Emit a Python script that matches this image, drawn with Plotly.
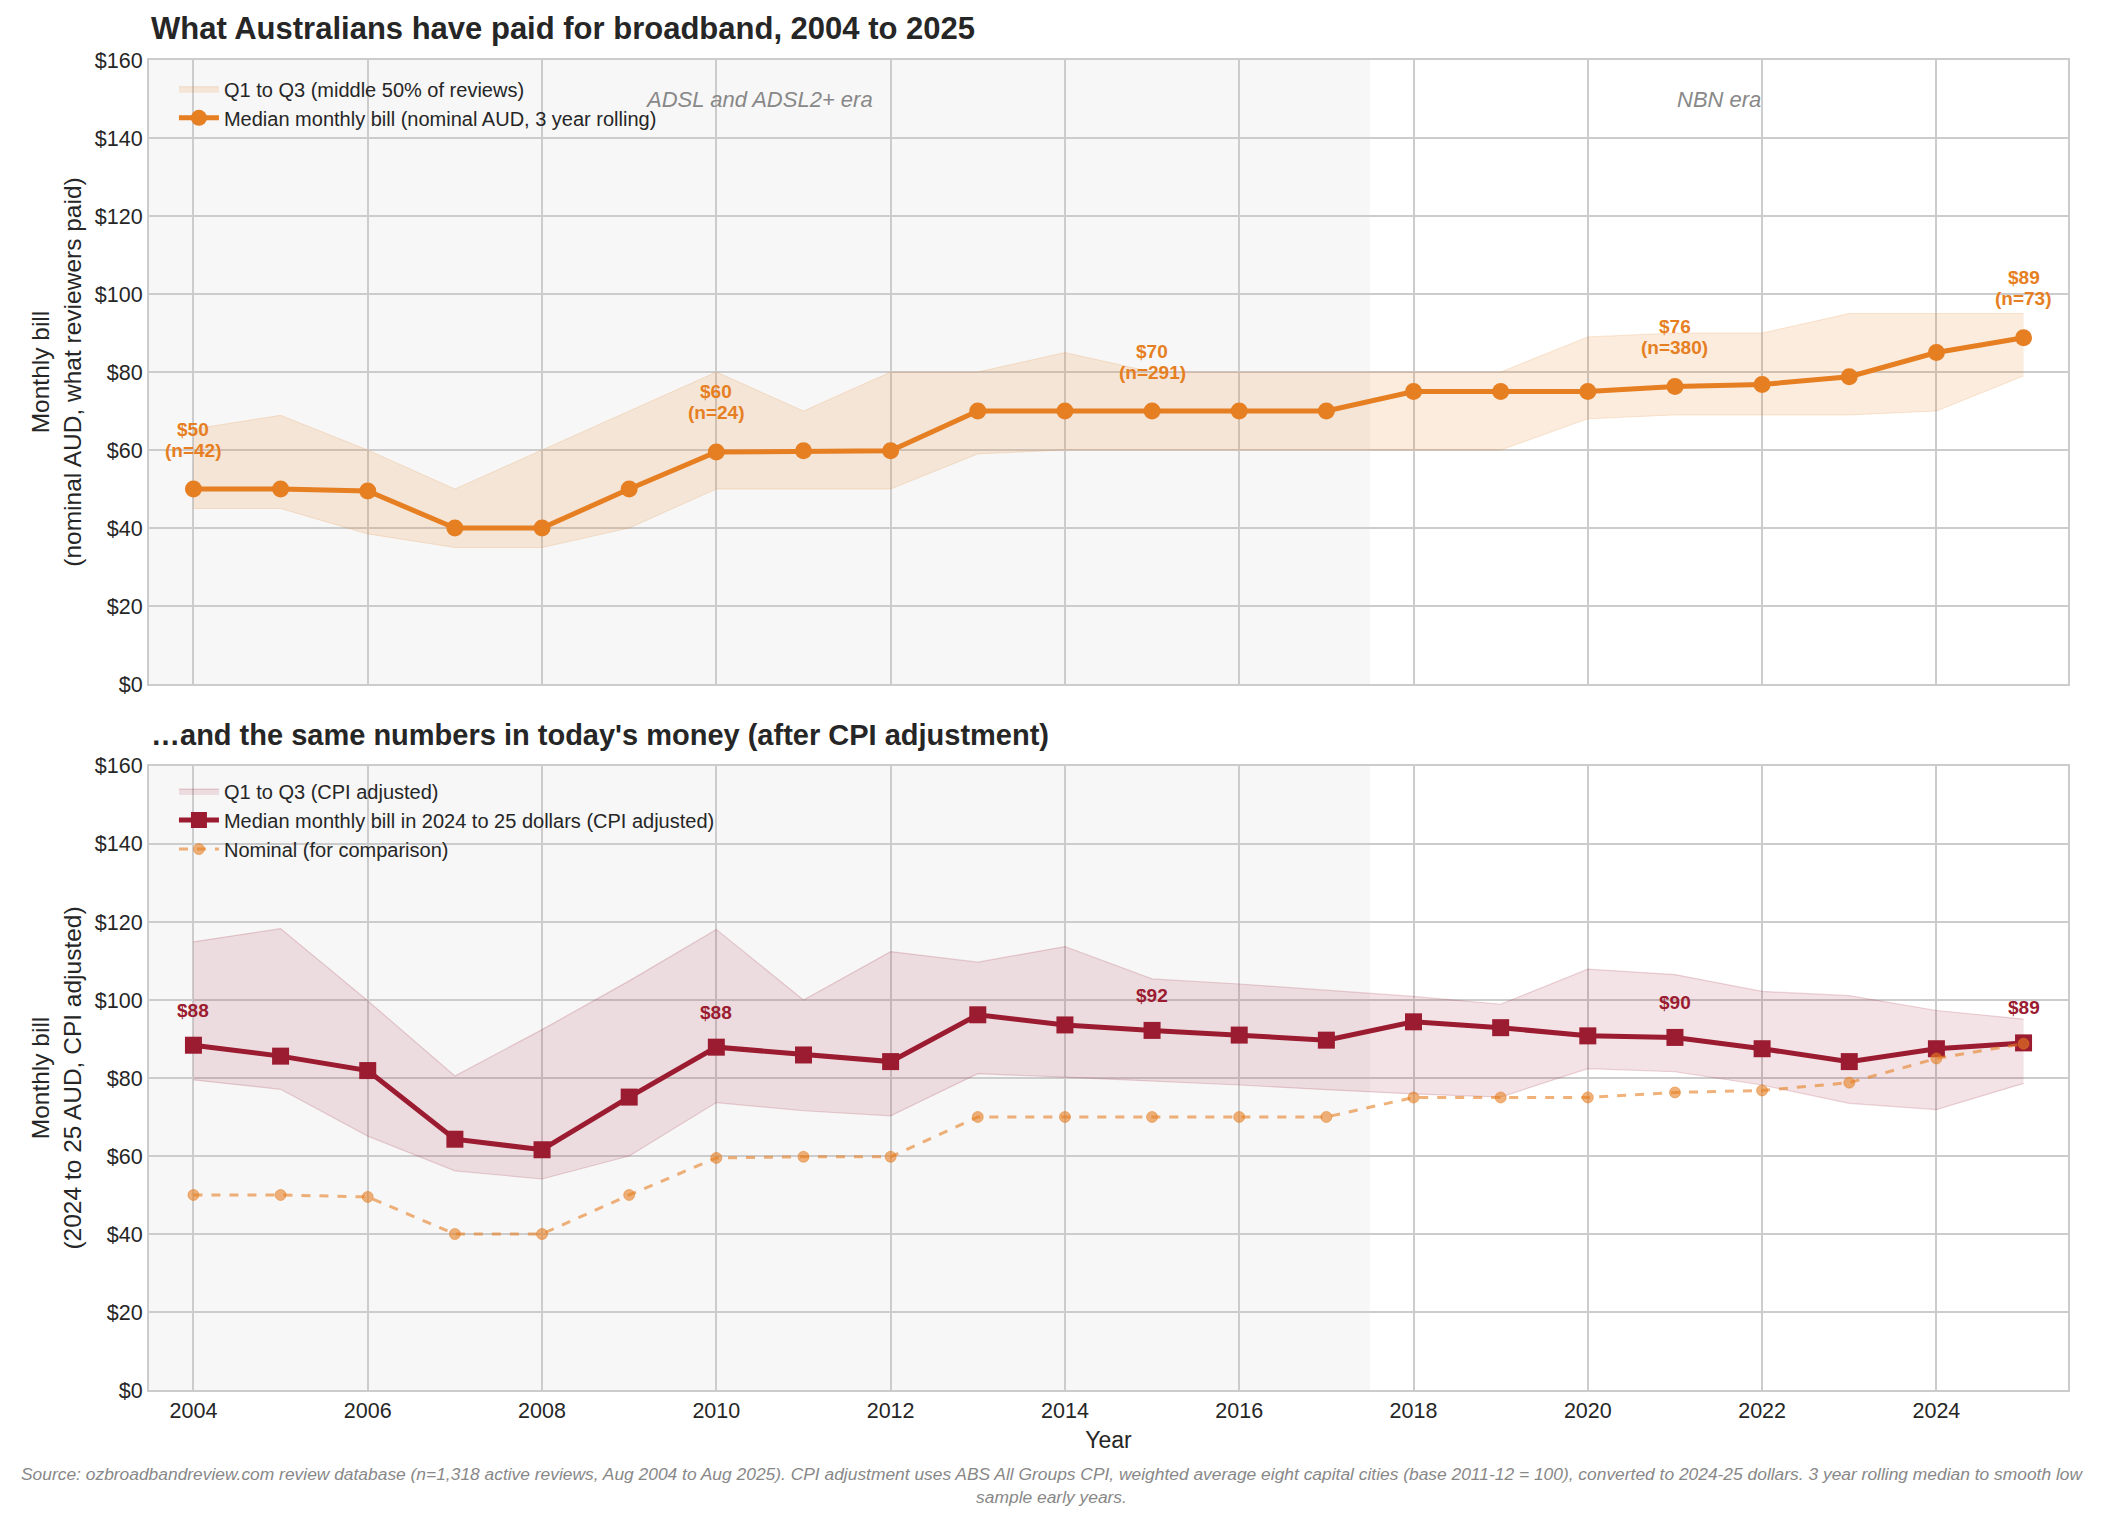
import plotly.graph_objects as go

# ---------------- data ----------------
years = list(range(2004, 2026))
nominal_median = [50, 50, 49.5, 40, 40, 50, 59.5, 59.8, 59.8, 70, 70, 70, 70, 70,
                  75, 75, 75, 76.3, 76.8, 78.8, 85, 88.8]
nominal_q1 = [45, 45, 38.5, 35, 35, 40, 50, 50, 50, 59, 60, 60, 60, 60,
              60, 60, 68, 69, 69, 69, 70, 79]
nominal_q3 = [65.4, 68.9, 60, 50, 60, 70, 80, 70, 80, 80, 85, 80, 80, 80,
              80, 80, 89, 90, 90, 95, 95, 95]

cpi_median = [88.4, 85.6, 81.9, 64.3, 61.6, 75.1, 87.9, 85.9, 84.2, 96.2, 93.6,
              92.2, 91.0, 89.7, 94.4, 92.9, 90.8, 90.4, 87.5, 84.2, 87.5, 89.0]
cpi_q1 = [79.5, 77.1, 65.1, 56.2, 54.1, 60.0, 73.7, 71.6, 70.3, 81.1, 80.2,
          79.2, 78.2, 77.0, 75.9, 75.1, 82.4, 81.6, 78.2, 73.5, 71.9, 78.6]
cpi_q3 = [114.9, 118.3, 99.8, 80.5, 92.4, 104.9, 118.1, 100.0, 112.4, 109.7, 113.7,
          105.4, 104.1, 102.5, 100.9, 98.9, 107.9, 106.5, 102.2, 101.1, 97.3, 95.1]

label_years = [2004, 2010, 2015, 2021, 2025]
label_n = [42, 24, 291, 380, 73]

y_ticks = [0, 20, 40, 60, 80, 100, 120, 140, 160]
x_ticks = [2004, 2006, 2008, 2010, 2012, 2014, 2016, 2018, 2020, 2022, 2024]
era_split = 2017.5

# ---------------- style ----------------
FONT = "Liberation Sans, Arial, sans-serif"
ORANGE = "#e67e22"
CRIMSON = "#9b1b30"
GRID = "#cccccc"
TXT = "#262626"

fig = go.Figure()

# --- top panel ---
fig.add_trace(go.Scatter(x=years, y=nominal_q1, mode="lines",
                         line=dict(color="rgba(230,126,34,0.18)", width=1),
                         showlegend=False, hoverinfo="skip", xaxis="x", yaxis="y"))
fig.add_trace(go.Scatter(x=years, y=nominal_q3, mode="lines", fill="tonexty",
                         fillcolor="rgba(230,126,34,0.15)",
                         line=dict(color="rgba(230,126,34,0.18)", width=1),
                         name="Q1 to Q3 (middle 50% of reviews)", legend="legend",
                         xaxis="x", yaxis="y"))
fig.add_trace(go.Scatter(x=years, y=nominal_median, mode="lines+markers",
                         line=dict(color=ORANGE, width=5),
                         marker=dict(color=ORANGE, size=17, symbol="circle"),
                         name="Median monthly bill (nominal AUD, 3 year rolling)",
                         legend="legend", xaxis="x", yaxis="y"))

# --- bottom panel ---
fig.add_trace(go.Scatter(x=years, y=cpi_q1, mode="lines",
                         line=dict(color="rgba(155,27,48,0.18)", width=1.2),
                         showlegend=False, hoverinfo="skip", xaxis="x2", yaxis="y2"))
fig.add_trace(go.Scatter(x=years, y=cpi_q3, mode="lines", fill="tonexty",
                         fillcolor="rgba(155,27,48,0.12)",
                         line=dict(color="rgba(155,27,48,0.18)", width=1.2),
                         name="Q1 to Q3 (CPI adjusted)", legend="legend2",
                         xaxis="x2", yaxis="y2"))
fig.add_trace(go.Scatter(x=years, y=cpi_median, mode="lines+markers",
                         line=dict(color=CRIMSON, width=5),
                         marker=dict(color=CRIMSON, size=17, symbol="square"),
                         name="Median monthly bill in 2024 to 25 dollars (CPI adjusted)",
                         legend="legend2", xaxis="x2", yaxis="y2"))
fig.add_trace(go.Scatter(x=years, y=nominal_median, mode="lines+markers",
                         line=dict(color="rgba(230,126,34,0.6)", width=3, dash="dash"),
                         marker=dict(color="rgba(230,126,34,0.6)", size=11, symbol="circle",
                                     line=dict(color="rgba(230,126,34,0.5)", width=1)),
                         name="Nominal (for comparison)",
                         legend="legend2", xaxis="x2", yaxis="y2"))

# --- annotations for labels ---
annotations = []
for yr, n in zip(label_years, label_n):
    v = nominal_median[years.index(yr)]
    annotations.append(dict(x=yr, y=v, xref="x", yref="y",
                            text=f"<b>${v:.0f}</b>", showarrow=False,
                            yanchor="middle", yshift=60,
                            font=dict(family=FONT, size=19, color=ORANGE)))
    annotations.append(dict(x=yr, y=v, xref="x", yref="y",
                            text=f"<b>(n={n})</b>", showarrow=False,
                            yanchor="middle", yshift=39,
                            font=dict(family=FONT, size=19, color=ORANGE)))
    c = cpi_median[years.index(yr)]
    annotations.append(dict(x=yr, y=c, xref="x2", yref="y2",
                            text=f"<b>${c:.0f}</b>", showarrow=False,
                            yanchor="middle", yshift=35,
                            font=dict(family=FONT, size=19, color=CRIMSON)))

x_lo, x_hi = 2003.49, 2025.51
annotations.append(dict(x=(x_lo + era_split) / 2, y=150, xref="x", yref="y",
                        text="<i>ADSL and ADSL2+ era</i>", showarrow=False,
                        font=dict(family=FONT, size=22, color="#888888")))
annotations.append(dict(x=(era_split + x_hi) / 2, y=150, xref="x", yref="y",
                        text="<i>NBN era</i>", showarrow=False,
                        font=dict(family=FONT, size=22, color="#888888")))

# titles
annotations.append(dict(x=0, y=1, xref="paper", yref="paper", xanchor="left",
                        yanchor="bottom", yshift=12,
                        text="<b>What Australians have paid for broadband, 2004 to 2025</b>",
                        showarrow=False, font=dict(family=FONT, size=31, color=TXT)))
annotations.append(dict(x=0, y=0.4692, xref="paper", yref="paper", xanchor="left",
                        yanchor="bottom", yshift=13,
                        text="<b>\u2026and the same numbers in today's money (after CPI adjustment)</b>",
                        showarrow=False, font=dict(family=FONT, size=29, color=TXT)))

# footnote
annotations.append(dict(x=(1051.5 - 149) / 1919, y=0, xref="paper", yref="paper",
                        xanchor="center", yanchor="top", yshift=-72,
                        text="<i>Source: ozbroadbandreview.com review database (n=1,318 active reviews, Aug 2004 to Aug 2025). "
                             "CPI adjustment uses ABS All Groups CPI, weighted average eight capital cities (base 2011-12 = 100), "
                             "converted to 2024-25 dollars. 3 year rolling median to smooth low<br>sample early years.</i>",
                        showarrow=False, align="center",
                        font=dict(family=FONT, size=17.4, color="#888888")))

shapes = []
for xr, yr_ in (("x", "y"), ("x2", "y2")):
    shapes.append(dict(type="rect", xref=xr, yref=f"{yr_} domain",
                       x0=x_lo, x1=era_split, y0=0, y1=1,
                       fillcolor="#f7f7f7", line=dict(width=0), layer="below"))

axis_common = dict(showgrid=True, gridcolor=GRID, gridwidth=1.5, showline=True,
                   linecolor=GRID, linewidth=2, mirror=True, zeroline=False,
                   ticks="", tickfont=dict(family=FONT, size=21.5, color=TXT))

fig.update_layout(
    width=2103, height=1521,
    margin=dict(l=149, r=35, t=60, b=131),
    paper_bgcolor="white", plot_bgcolor="white",
    font=dict(family=FONT, color=TXT),
    xaxis=dict(domain=[0, 1], range=[x_lo, x_hi], tickvals=x_ticks,
               showticklabels=False, anchor="y", **axis_common),
    yaxis=dict(domain=[0.5308, 1], range=[0, 160], tickvals=y_ticks,
               ticktext=[f"${t}" for t in y_ticks], anchor="x",
               title=dict(text="Monthly bill<br>(nominal AUD, what reviewers paid)",
                          font=dict(family=FONT, size=24.5, color=TXT), standoff=6),
               **axis_common),
    xaxis2=dict(domain=[0, 1], range=[x_lo, x_hi], tickvals=x_ticks,
                ticktext=[str(t) for t in x_ticks], anchor="y2", matches="x",
                title=dict(text="Year", font=dict(family=FONT, size=23, color=TXT), standoff=10),
                **axis_common),
    yaxis2=dict(domain=[0, 0.4692], range=[0, 160], tickvals=y_ticks,
                ticktext=[f"${t}" for t in y_ticks], anchor="x2",
                title=dict(text="Monthly bill<br>(2024 to 25 AUD, CPI adjusted)",
                           font=dict(family=FONT, size=24.5, color=TXT), standoff=6),
                **axis_common),
    legend=dict(x=0.013, y=0.993, xanchor="left", yanchor="top", traceorder="normal",
                bgcolor="rgba(0,0,0,0)", font=dict(family=FONT, size=20, color=TXT),
                itemwidth=40, tracegroupgap=0),
    legend2=dict(x=0.013, y=0.465, xanchor="left", yanchor="top", traceorder="normal",
                 bgcolor="rgba(0,0,0,0)", font=dict(family=FONT, size=20, color=TXT),
                 itemwidth=40, tracegroupgap=0),
    annotations=annotations,
    shapes=shapes,
)

fig.write_html("out.html")
